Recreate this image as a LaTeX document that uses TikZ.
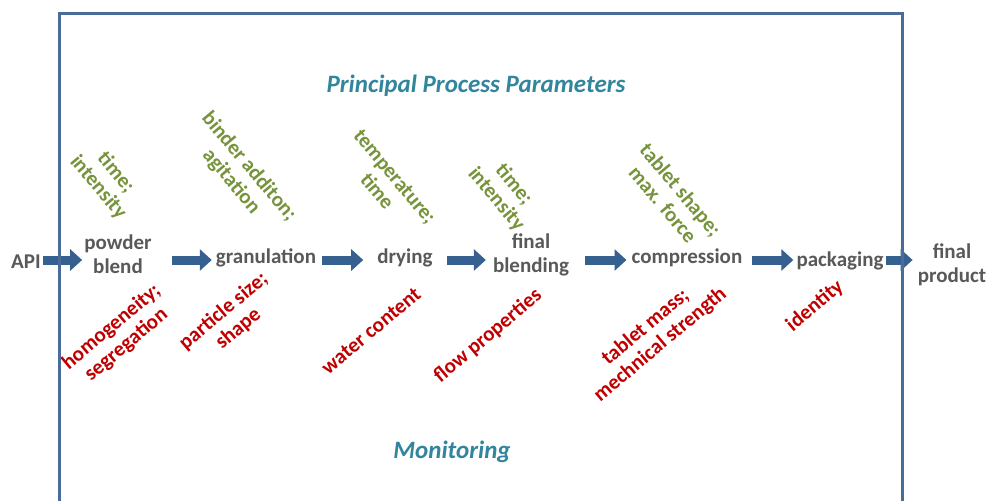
\documentclass[tikz,border=0pt]{standalone}
\usepackage{fontspec}
\setmainfont{Carlito}
\usetikzlibrary{arrows.meta}
\definecolor{stagegray}{HTML}{595959}
\definecolor{paramgreen}{HTML}{77933C}
\definecolor{qualred}{HTML}{C00000}
\definecolor{headteal}{HTML}{31859C}
\definecolor{flowblue}{HTML}{35608F}
\definecolor{frameblue}{HTML}{4A6C9B}
\begin{document}
\begin{tikzpicture}[x=1pt,y=-1pt,
  stage/.style={text=stagegray, font=\bfseries\fontsize{21}{24}\selectfont, align=center, inner sep=0pt},
  param/.style={text=paramgreen, font=\bfseries\fontsize{21}{23}\selectfont, align=center, inner sep=0pt, rotate=-50},
  quality/.style={text=qualred, font=\bfseries\fontsize{21}{23}\selectfont, align=center, inner sep=0pt, rotate=40},
  heading/.style={text=headteal, font=\bfseries\itshape\fontsize{25}{28}\selectfont, inner sep=0pt},
  flow/.style={draw=flowblue, line width=9pt, -{Triangle[width=21pt,length=12pt]}},
  frame/.style={draw=frameblue, line width=3pt}]
\useasboundingbox (0,0) rectangle (989,501);
\fill[white] (0,0) rectangle (989,501);

% level of the process arrows
\coordinate (axis) at (0,260);

% process stages
\node[stage] (api) at (26,262) {API};
\node[stage] (pb)  at (118,254) {powder\\blend};
\node[stage] (gr)  at (266,258) {granulation};
\node[stage] (dr)  at (405,258) {drying};
\node[stage] (fb)  at (531,255) {final\\blending};
\node[stage] (co)  at (687,258) {compression};
\node[stage] (pa)  at (840,261) {packaging};
\node[stage] (fp)  at (952,265) {final\\product};

% process parameters
\node[param] (p1) at (107,180) {time;\\intensity};
\node[param] (p2) at (240,174) {binder additon;\\agitation};
\node[param] (p3) at (386,184) {temperature;\\time};
\node[param] (p4) at (505,192) {time;\\intensity};
\node[param] (p5) at (672,197) {tablet shape;\\max. force};

% monitored attributes
\node[quality] (q1) at (119,336) {homogeneity;\\segregation};
\node[quality] (q2) at (231,320) {particle size;\\shape};
\node[quality] (q3) at (371,331) {water content};
\node[quality] (q4) at (488,336) {flow properties};
\node[quality] (q5) at (653,336) {tablet mass;\\mechnical strength};
\node[quality] (q6) at (815,306) {identity};

% headings
\node[heading] (hpp)  at (476,86)  {Principal Process Parameters};
\node[heading] (hmon) at (452,452) {Monitoring};

% flow arrows
\draw[flow, shorten <=2pt,  shorten >=2pt]  (api.east |- axis) -- (pb.west |- axis);
\draw[flow, shorten <=20pt, shorten >=4pt]  (pb.east |- axis)  -- (gr.west |- axis);
\draw[flow, shorten <=6pt,  shorten >=14pt] (gr.east |- axis)  -- (dr.west |- axis);
\draw[flow, shorten <=14pt, shorten >=7pt]  (dr.east |- axis)  -- (fb.west |- axis);
\draw[flow, shorten <=16pt, shorten >=5pt]  (fb.east |- axis)  -- (co.west |- axis);
\draw[flow, shorten <=9pt,  shorten >=3pt]  (co.east |- axis)  -- (pa.west |- axis);
\draw[flow, shorten <=2pt,  shorten >=5pt]  (pa.east |- axis)  -- (fp.west |- axis);

% open frame around the process
\draw[frame] (59,501) -- (59,13) -- (902,13) -- (902,501);
\end{tikzpicture}
\end{document}
